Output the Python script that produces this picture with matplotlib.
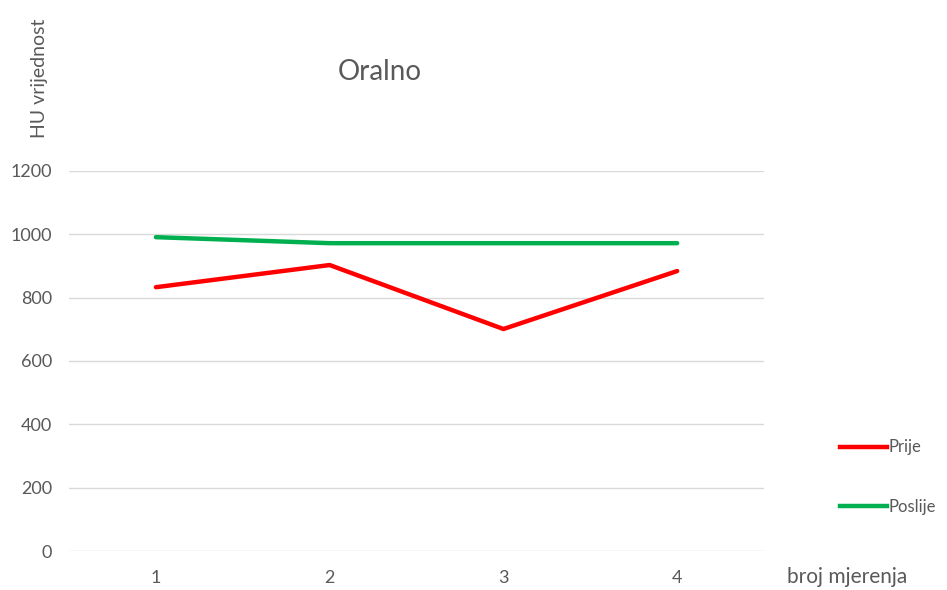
import matplotlib.pyplot as plt
from matplotlib.lines import Line2D

plt.rcParams['font.family'] = ['Lato', 'DejaVu Sans']

mjerenja = [1, 2, 3, 4]
prije = [833, 903, 701, 884]
poslije = [991, 972, 972, 972]
yticks = [0, 200, 400, 600, 800, 1000, 1200]

txt = '#595959'

fig = plt.figure(figsize=(9.47, 5.9), dpi=100)
ax = fig.add_axes([0.0729, 0.0661, 0.7339, 0.6441])

for y in yticks:
    ax.axhline(y, color='#d9d9d9', lw=1, zorder=0)

ax.plot(mjerenja, prije, color='#ff0000', lw=3.2, solid_capstyle='round', label='Prije')
ax.plot(mjerenja, poslije, color='#00b050', lw=3.2, solid_capstyle='round', label='Poslije')

ax.set_xlim(0.5, 4.5)
ax.set_ylim(0, 1200)
ax.set_xticks(mjerenja)
ax.set_yticks(yticks)
ax.tick_params(length=0, labelsize=13, colors=txt)
ax.tick_params(axis='x', pad=14)
ax.tick_params(axis='y', pad=12)
for s in ax.spines.values():
    s.set_visible(False)

fig.text(380 / 947, 1 - 72 / 590, 'Oralno', fontsize=20, color=txt, ha='center', va='center')
fig.text(40 / 947, 1 - 78 / 590, 'HU vrijednost', fontsize=14, color=txt, rotation=90,
         ha='center', va='center')
fig.text(787 / 947, 1 - 577 / 590, 'broj mjerenja', fontsize=15, color=txt, ha='left', va='center')

handles = [Line2D([], [], color='#ff0000', lw=3.2), Line2D([], [], color='#00b050', lw=3.2)]
leg = fig.legend(handles, ['Prije', 'Poslije'], loc='center left',
                 bbox_to_anchor=(840 / 947, 1 - 477 / 590), frameon=False, borderpad=0,
                 borderaxespad=0, handlelength=2.8, handletextpad=0.1, labelspacing=2.6,
                 fontsize=12)
for t in leg.get_texts():
    t.set_color(txt)

fig.savefig('out.png', dpi=100)
